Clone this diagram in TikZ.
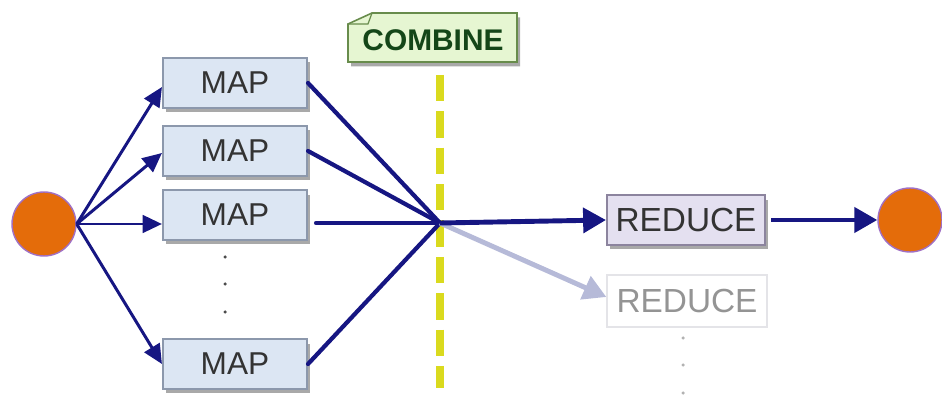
\documentclass[tikz,border=0pt]{standalone}
\usepackage{fontspec}
\setmainfont{Liberation Sans}
\usetikzlibrary{arrows.meta,shadows}
\definecolor{navy}{RGB}{22,22,130}
\definecolor{mapfill}{RGB}{220,230,243}
\definecolor{mapline}{RGB}{140,152,172}
\definecolor{redfill}{RGB}{228,224,240}
\definecolor{redline}{RGB}{140,132,158}
\definecolor{faintline}{RGB}{228,228,232}
\definecolor{faintarrow}{RGB}{182,186,216}
\definecolor{combfill}{RGB}{230,246,210}
\definecolor{combline}{RGB}{104,140,76}
\definecolor{combtext}{RGB}{20,70,24}
\definecolor{splityellow}{RGB}{218,218,30}
\definecolor{dotorange}{RGB}{228,108,10}
\definecolor{dotrim}{RGB}{160,112,196}

\begin{document}
\begin{tikzpicture}[x=0.02cm,y=-0.02cm]
\tikzstyle{every node}+=[inner sep=0pt]
\tikzstyle{boxshadow}=[drop shadow={opacity=0.45, fill=black!75, shadow xshift=0.06cm, shadow yshift=-0.09cm}]
\tikzstyle{mapbox}=[draw=mapline, line width=1.2pt, fill=mapfill, minimum width=2.88cm, minimum height=1cm, text=black!80, font=\fontsize{18}{18}\selectfont, boxshadow]
\tikzstyle{reducebox}=[draw=redline, line width=1.2pt, fill=redfill, minimum width=3.16cm, minimum height=1cm, text=black!80, font=\fontsize{19}{19}\selectfont, boxshadow]
\tikzstyle{fadedbox}=[draw=faintline, line width=0.8pt, fill=white, minimum width=3.2cm, minimum height=1.04cm, text=black!42, font=\fontsize{19}{19}\selectfont]
\tikzstyle{endpoint}=[circle, draw=dotrim, line width=0.8pt, fill=dotorange, minimum size=1.28cm]
\tikzstyle{vdot}=[circle, fill=black!70, minimum size=0.07cm]
\tikzstyle{fadeddot}=[circle, fill=black!30, minimum size=0.07cm]
\tikzstyle{fanout}=[navy, line width=1.7pt, -{Triangle[length=11pt,width=10pt]}]
\tikzstyle{fanin}=[navy, line width=2.4pt, line cap=round]
\tikzstyle{flow}=[navy, line width=2.8pt, -{Triangle[length=13pt,width=14pt]}]
\useasboundingbox (0,0) rectangle (942,401);
\draw [splityellow, line width=4.5pt, dash pattern=on 15pt off 5.7pt] (440,75) -- (440,388);
\filldraw [combline, fill=combfill, line width=0.9pt, boxshadow] (348,24) -- (372,13) -- (517,13) -- (517,62) -- (348,62) -- cycle;
\draw [combline, line width=0.7pt] (348,24) -- (368,24) -- (372,13);
\node [text=combtext, font=\bfseries\fontsize{17}{17}\selectfont] (combine) at (433,40) {COMBINE};
\node [endpoint] (src) at (44,224) {};
\node [endpoint] (sink) at (910,220) {};
\node [mapbox] (map1) at (235,83) {MAP};
\node [mapbox] (map2) at (235,151) {MAP};
\node [mapbox] (map3) at (235,215) {MAP};
\node [mapbox] (map4) at (235,364) {MAP};
\node [vdot] (gap1) at (225,257) {};
\node [vdot] (gap2) at (225,284) {};
\node [vdot] (gap3) at (225,312) {};
\node [reducebox] (red1) at (686,220) {REDUCE};
\node [fadedbox] (red2) at (687,301) {REDUCE};
\node [fadeddot] (more1) at (683,338) {};
\node [fadeddot] (more2) at (683,365) {};
\node [fadeddot] (more3) at (683,393) {};
\coordinate (join) at (440,223);
\draw [fanout] (src.east) -- ([yshift=-0.08cm]map1.west);
\draw [fanout] (src.east) -- ([yshift=-0.04cm]map2.west);
\draw [fanout] (src.east) -- (map3.west |- src.east);
\draw [fanout] (src.east) -- (map4.west);
\draw [fanin] (map1.east) -- (join);
\draw [fanin] (map2.east) -- (join);
\draw [fanin] ([xshift=0.16cm]map3.east |- join) -- (join);
\draw [fanin] (map4.east) -- (join);
\draw [faintarrow, line width=2.8pt, -{Triangle[length=13pt,width=14pt]}] (join) -- ([yshift=0.08cm]red2.west);
\draw [flow] (join) -- (red1.west);
\draw [flow, shorten <=0.1cm] (red1.east) -- (sink.west);
\end{tikzpicture}
\end{document}
